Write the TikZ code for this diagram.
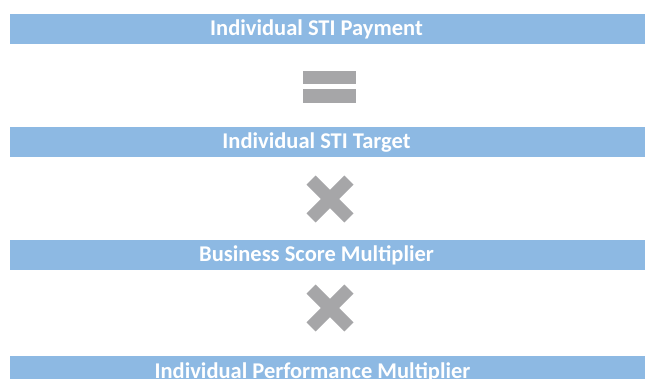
\documentclass[tikz,border=0pt]{standalone}
\usepackage{fontspec}
\setmainfont{Carlito}
\definecolor{barblue}{HTML}{8DB9E3}
\definecolor{signgray}{HTML}{A6A6A8}
\begin{document}
\begin{tikzpicture}[x=1pt,y=-1pt,
  bar/.style={fill=barblue, draw=none, inner sep=0pt, minimum width=635pt, minimum height=30pt, anchor=north west},
  bartext/.style={text=white, anchor=base, inner sep=0pt, font=\fontsize{22.5}{27}\selectfont\bfseries},
  eqbar/.style={fill=signgray, draw=none},
  xarm/.style={draw=signgray, line width=13pt, line cap=butt}]
\clip (0,0) rectangle (645,379);
\fill[white] (0,0) rectangle (645,379);
% bars
\node[bar] (b1) at (10,14) {};
\node[bar] (b2) at (10,127) {};
\node[bar] (b3) at (10,240) {};
\node[bar] (b4) at (10,356) {};
\node[bartext] (t1) at (316.5,36) {Individual STI Payment};
\node[bartext] (t2) at (316.5,149) {Individual STI Target};
\node[bartext] (t3) at (316.5,262) {Business Score Multiplier};
\node[bartext] (t4) at (312.5,378) {Individual Performance Multiplier};
% equals sign
\fill[eqbar] (303,71) rectangle (356,84);
\fill[eqbar] (303,89.5) rectangle (356,103);
% multiplication signs
\foreach \cy in {199,308} {
  \draw[xarm] (330-18.9,\cy-18.9) -- (330+18.9,\cy+18.9);
  \draw[xarm] (330-18.9,\cy+18.9) -- (330+18.9,\cy-18.9);
}
\end{tikzpicture}
\end{document}
